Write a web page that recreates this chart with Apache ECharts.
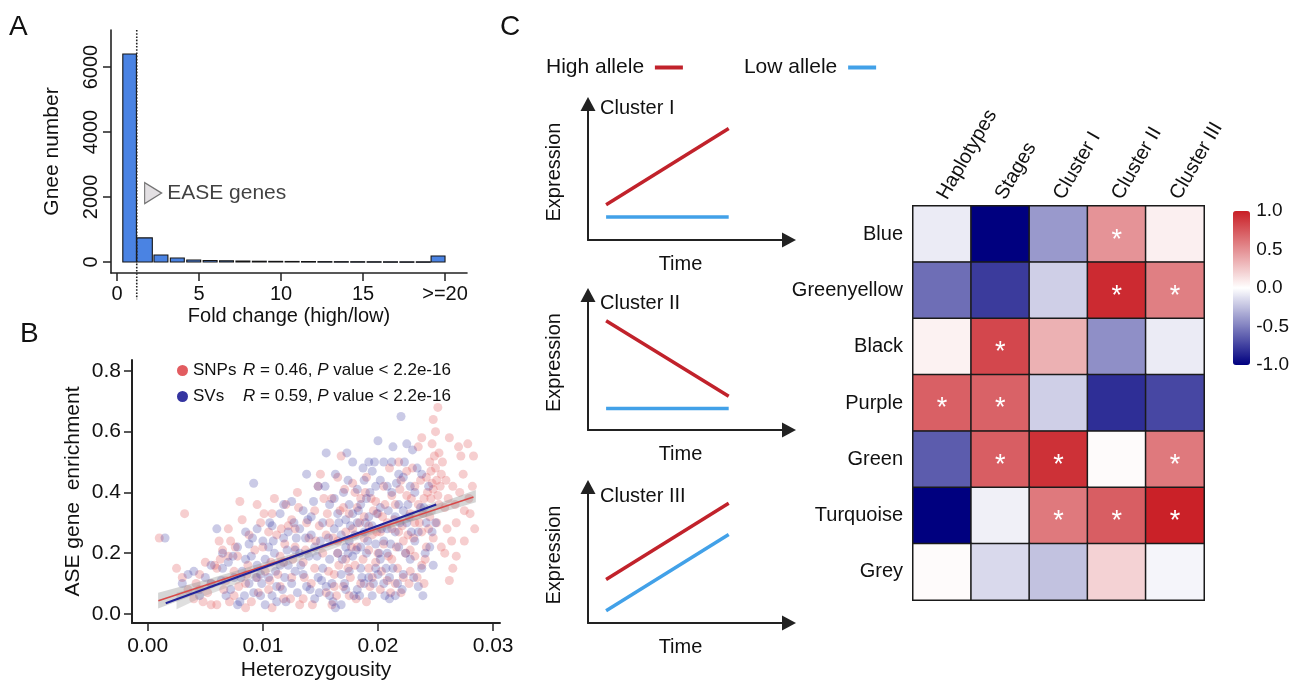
<!DOCTYPE html>
<html><head><meta charset="utf-8">
<script src="https://cdn.jsdelivr.net/npm/echarts@6/dist/echarts.min.js"></script>
<style>html,body{margin:0;padding:0;background:#fff}#c{width:1292px;height:682px}</style>
</head><body><div id="c"></div><script>
// ---------- Panel A: fold-change histogram ----------
const foldLo = [0.35,1.2,2.25,3.25,4.25,5.25,6.25,7.25,8.25,9.25,10.25,11.25,12.25,13.25,14.25,15.25,16.25,17.25,18.25,19.15];
const foldHi = [1.18,2.15,3.1,4.1,5.1,6.1,7.1,8.1,9.1,10.1,11.1,12.1,13.1,14.1,15.1,16.1,17.1,18.1,19.1,20.0];
const geneCounts = [6400,740,215,120,60,45,35,28,22,18,15,12,10,9,8,7,6,5,5,185];
const foldTicks = [0,5,10,15,20];
const geneTicks = [0,2000,4000,6000];
const easeCut = 1.2;
const easeLabelAt = [2.2, 2120];

// ---------- Panel B: heterozygosity vs ASE enrichment ----------
const snpPoints = [
[0.001,0.25],[0.0032,0.33],[0.0025,0.15],[0.003,0.12],[0.0035,0.08],[0.004,0.05],[0.0045,0.13],[0.005,0.17],[0.0055,0.03],[0.006,0.15],
[0.0065,0.21],[0.007,0.28],[0.0072,0.24],[0.0068,0.11],[0.0075,0.06],[0.008,0.37],[0.0078,0.19],[0.0082,0.31],[0.0085,0.1],[0.0088,0.26],
[0.009,0.04],[0.0055,0.1],[0.0045,0.08],[0.006,0.03],[0.007,0.19],[0.0062,0.24],[0.0048,0.04],[0.0058,0.16],[0.0075,0.14],[0.0085,0.02],
[0.0095,0.36],[0.0098,0.3],[0.01,0.22],[0.0102,0.14],[0.0105,0.08],[0.0108,0.33],[0.011,0.38],[0.0112,0.26],[0.0115,0.19],[0.0118,0.05],
[0.012,0.36],[0.0122,0.29],[0.0125,0.12],[0.0128,0.22],[0.013,0.4],[0.0132,0.03],[0.0135,0.17],[0.0138,0.3],[0.014,0.25],[0.0142,0.1],
[0.0145,0.34],[0.0148,0.42],[0.015,0.46],[0.0152,0.2],[0.0155,0.07],[0.0095,0.12],[0.0105,0.27],[0.0115,0.09],[0.0125,0.31],[0.0135,0.05],
[0.0145,0.15],[0.0118,0.17],[0.0128,0.28],[0.0108,0.02],[0.0158,0.3],[0.016,0.38],[0.0162,0.13],[0.0165,0.24],[0.0168,0.52],[0.017,0.35],
[0.0172,0.18],[0.0175,0.06],[0.0178,0.28],[0.018,0.4],[0.0182,0.22],[0.0185,0.1],[0.0188,0.32],[0.019,0.45],[0.0192,0.15],[0.0195,0.26],
[0.0198,0.37],[0.02,0.2],[0.0202,0.08],[0.0205,0.42],[0.0208,0.3],[0.021,0.48],[0.016,0.03],[0.0165,0.45],[0.017,0.09],[0.0175,0.33],
[0.018,0.16],[0.0185,0.38],[0.019,0.04],[0.0195,0.12],[0.02,0.33],[0.0205,0.23],[0.0165,0.2],[0.0178,0.43],[0.0188,0.25],[0.0198,0.17],
[0.0208,0.11],[0.0172,0.27],[0.0182,0.35],[0.0192,0.29],[0.0212,0.18],[0.0215,0.36],[0.0218,0.27],[0.022,0.44],[0.0222,0.12],[0.0225,0.39],
[0.0228,0.21],[0.023,0.48],[0.0232,0.3],[0.0235,0.55],[0.0238,0.16],[0.024,0.38],[0.0242,0.45],[0.0245,0.5],[0.0246,0.47],[0.0247,0.43],
[0.0248,0.41],[0.0249,0.52],[0.025,0.48],[0.0251,0.44],[0.0252,0.39],[0.0253,0.53],[0.0255,0.46],[0.0245,0.32],[0.0248,0.25],[0.025,0.6],
[0.0252,0.68],[0.0255,0.22],[0.0258,0.35],[0.026,0.28],[0.0262,0.11],[0.0265,0.42],[0.0268,0.3],[0.027,0.55],[0.0272,0.52],[0.0275,0.34],
[0.0278,0.56],[0.028,0.33],[0.0282,0.42],[0.0284,0.28],[0.0275,0.24],[0.0268,0.19],[0.0258,0.2],[0.0238,0.27],[0.0228,0.33],[0.0222,0.24],
[0.0232,0.19],[0.0242,0.22],[0.0215,0.1],[0.022,0.07],[0.0235,0.36],[0.0225,0.47],[0.0218,0.5],[0.024,0.1],[0.0265,0.15],[0.0262,0.58],
[0.0248,0.64],[0.0238,0.58],[0.0212,0.28],[0.0228,0.14],[0.0155,0.26],[0.0162,0.09],[0.0192,0.21],[0.0202,0.27],[0.0212,0.39],[0.0232,0.42],
[0.0042,0.1],[0.0052,0.07],[0.0063,0.18],[0.0071,0.04],[0.0079,0.09],[0.0087,0.16],[0.0093,0.21],[0.0101,0.33],[0.0107,0.17],[0.0113,0.13],
[0.0119,0.23],[0.0124,0.05],[0.0131,0.35],[0.0137,0.21],[0.0143,0.03],[0.0149,0.29],[0.0153,0.38],[0.0157,0.14],[0.0161,0.25],[0.0164,0.06],
[0.0167,0.34],[0.0171,0.41],[0.0174,0.15],[0.0177,0.22],[0.0181,0.05],[0.0184,0.3],[0.0187,0.18],[0.0189,0.4],[0.0193,0.09],[0.0196,0.34],
[0.0199,0.27],[0.0203,0.14],[0.0206,0.36],[0.0209,0.19],[0.0211,0.07],[0.0214,0.31],[0.0217,0.15],[0.0219,0.41],[0.0221,0.29],[0.0224,0.2],
[0.0227,0.1],[0.0229,0.38],[0.0231,0.25],[0.0234,0.12],[0.0237,0.44],[0.0239,0.33],[0.0241,0.18],[0.0244,0.28],[0.0246,0.38],[0.0251,0.3],
[0.0254,0.42],[0.0256,0.5],[0.0259,0.44],[0.0261,0.38],[0.0264,0.24],[0.0267,0.36],[0.0271,0.4],[0.0274,0.46],[0.0279,0.38],[0.0283,0.52],
[0.0247,0.56],[0.0243,0.4],[0.0253,0.36],[0.0236,0.3],[0.0226,0.26],[0.0216,0.22],[0.0204,0.32],[0.0194,0.38],[0.0176,0.12],[0.0166,0.16],
[0.0156,0.33],[0.0146,0.24],[0.0136,0.12],[0.0126,0.18],[0.0116,0.28],[0.0106,0.11],[0.0096,0.07],[0.0086,0.13],[0.0076,0.22],[0.0066,0.08]
];
const svPoints = [
[0.0015,0.25],[0.004,0.14],[0.005,0.12],[0.0045,0.06],[0.006,0.28],[0.0065,0.15],[0.007,0.17],[0.0072,0.08],[0.0078,0.22],[0.008,0.04],
[0.0082,0.14],[0.0085,0.27],[0.0088,0.1],[0.009,0.19],[0.0092,0.43],[0.0095,0.16],[0.0098,0.06],[0.01,0.24],[0.0102,0.03],[0.0105,0.12],
[0.0108,0.29],[0.011,0.2],[0.0112,0.09],[0.0115,0.33],[0.0118,0.25],[0.012,0.04],[0.0122,0.16],[0.0125,0.37],[0.0128,0.21],[0.013,0.07],
[0.0132,0.28],[0.0135,0.13],[0.0138,0.46],[0.014,0.19],[0.0142,0.32],[0.0145,0.05],[0.0148,0.42],[0.015,0.24],[0.0152,0.15],[0.0155,0.53],
[0.0158,0.36],[0.016,0.1],[0.0162,0.28],[0.0165,0.2],[0.0168,0.03],[0.017,0.4],[0.0172,0.31],[0.0175,0.14],[0.0178,0.5],[0.018,0.26],
[0.0182,0.08],[0.0185,0.36],[0.0188,0.44],[0.019,0.2],[0.0192,0.5],[0.0195,0.29],[0.0198,0.15],[0.02,0.57],[0.0202,0.35],[0.0205,0.24],
[0.0208,0.42],[0.021,0.12],[0.0212,0.5],[0.0215,0.32],[0.0218,0.22],[0.022,0.65],[0.0222,0.45],[0.0225,0.3],[0.0228,0.18],[0.023,0.54],
[0.0232,0.4],[0.0235,0.27],[0.0238,0.15],[0.024,0.35],[0.0245,0.22],[0.025,0.3],[0.0238,0.46],[0.0215,0.06],[0.0205,0.1],[0.0195,0.06],
[0.0185,0.15],[0.0175,0.24],[0.0165,0.33],[0.0155,0.09],[0.0145,0.22],[0.0135,0.34],[0.0125,0.1],[0.0115,0.16],[0.0105,0.22],[0.0095,0.28],
[0.0085,0.18],[0.0075,0.12],[0.0065,0.2],[0.0055,0.1],[0.0035,0.13],[0.019,0.38],[0.0198,0.42],[0.0192,0.32],[0.0182,0.3],[0.0178,0.19],
[0.0172,0.08],[0.0202,0.18],[0.0212,0.4],[0.0218,0.36],[0.0208,0.28],[0.0222,0.13],[0.0228,0.42],[0.0188,0.1],[0.0168,0.26],[0.0158,0.18],
[0.0148,0.12],[0.0162,0.38],[0.0152,0.3],[0.0142,0.26],[0.0132,0.2],[0.0122,0.27],[0.0112,0.04],[0.0102,0.18],[0.0092,0.07],[0.0205,0.5],
[0.0195,0.47],[0.021,0.05],[0.0185,0.22],[0.0175,0.36],[0.02,0.13],[0.0215,0.27],[0.0232,0.24],[0.0242,0.3],[0.0248,0.16],[0.0235,0.09],
[0.0225,0.56],[0.0218,0.46],[0.0198,0.23],[0.0188,0.27],[0.0178,0.33],[0.0168,0.13],[0.0158,0.06],[0.0138,0.09],[0.0128,0.14],[0.0118,0.36],
[0.0108,0.06],[0.0098,0.13],[0.0088,0.23],[0.0078,0.03],[0.0182,0.41],[0.0172,0.22],[0.0192,0.12],[0.0202,0.44],[0.0208,0.2],[0.0222,0.34],
[0.003,0.1],[0.0055,0.16],[0.0068,0.06],[0.0081,0.12],[0.0091,0.25],[0.0099,0.1],[0.0106,0.3],[0.0111,0.14],[0.0117,0.08],[0.0121,0.21],
[0.0127,0.3],[0.0133,0.16],[0.0137,0.25],[0.0141,0.08],[0.0144,0.37],[0.0147,0.19],[0.0151,0.11],[0.0154,0.42],[0.0157,0.25],[0.0161,0.04],
[0.0163,0.46],[0.0166,0.3],[0.0169,0.18],[0.0171,0.1],[0.0174,0.44],[0.0176,0.29],[0.0179,0.06],[0.0181,0.21],[0.0183,0.34],[0.0186,0.12],
[0.0189,0.3],[0.0191,0.24],[0.0193,0.4],[0.0196,0.1],[0.0199,0.33],[0.0201,0.2],[0.0203,0.28],[0.0206,0.06],[0.0209,0.34],[0.0211,0.23],
[0.0213,0.15],[0.0216,0.43],[0.0219,0.3],[0.0221,0.08],[0.0224,0.2],[0.0226,0.36],[0.0229,0.27],[0.0231,0.12],[0.0234,0.48],[0.0237,0.35],
[0.0241,0.2],[0.0244,0.42],[0.0247,0.27],[0.0239,0.06],[0.0223,0.5],[0.0213,0.55],[0.0197,0.5],[0.0187,0.48],[0.0173,0.53],[0.0163,0.02],
[0.0149,0.07],[0.0139,0.31],[0.0129,0.25],[0.0119,0.12],[0.0109,0.24],[0.0094,0.12],[0.0084,0.06],[0.0074,0.19],[0.0064,0.11],[0.0207,0.15],
[0.0217,0.1],[0.0227,0.32],[0.0184,0.06],[0.0174,0.2]
];
const snpFit = [[0.00092,0.0436],[0.0283,0.385]];
const svFit = [[0.00156,0.035],[0.02506,0.36]];
const snpBandX  = [0.0009,0.005,0.01,0.015,0.02,0.025,0.0285];
const snpBandLo = [0.018,0.076,0.146,0.211,0.273,0.328,0.368];
const snpBandHi = [0.07,0.112,0.168,0.227,0.291,0.36,0.408];
const svBandX  = [0.0025,0.005,0.01,0.015,0.02,0.025];
const svBandLo = [0.015,0.06,0.13,0.2,0.268,0.33];
const svBandHi = [0.07,0.095,0.158,0.225,0.292,0.37];
const statR = [0.46, 0.59];
const statP = ['2.2e-16', '2.2e-16'];
const hetTicks = [0,0.01,0.02,0.03];
const aseTicks = [0,0.2,0.4,0.6,0.8];

// ---------- Panel C: schematic clusters ----------
const clusterNames = ['Cluster I','Cluster II','Cluster III'];
const schemeTime = [0.09, 0.70];
const highAllele = [[0.26,0.82],[0.81,0.25],[0.32,0.88]];
const lowAllele  = [[0.17,0.17],[0.16,0.16],[0.09,0.65]];

// ---------- Panel C: module-trait heatmap ----------
const traitCols = ['Haplotypes','Stages','Cluster I','Cluster II','Cluster III'];
const moduleRows = ['Blue','Greenyellow','Black','Purple','Green','Turquoise','Grey'];
const corr = [
  [-0.08,-1.0,-0.4,0.48,0.07],
  [-0.57,-0.77,-0.19,0.95,0.57],
  [0.06,0.82,0.35,-0.44,-0.08],
  [0.71,0.7,-0.19,-0.82,-0.72],
  [-0.64,0.72,0.92,0.02,0.6],
  [-1.0,-0.06,0.6,0.72,0.99],
  [0.02,-0.15,-0.24,0.2,-0.04]
];
const signif = [
  [0,0,0,1,0],
  [0,0,0,1,1],
  [0,1,0,0,0],
  [1,1,0,0,0],
  [0,1,1,0,1],
  [0,0,1,1,1],
  [0,0,0,0,0]
];
const scaleTicks = [-1,-0.5,0,0.5,1];

// ================= build =================
const FONT = '"Liberation Sans", Arial, sans-serif';
const INK = '#111';
const chart = echarts.init(document.getElementById('c'), null, {renderer:'canvas'});

const heatData = [];
corr.forEach((row, r) => row.forEach((v, c) => heatData.push([c, r, v])));
const histData = geneCounts.map((n, i) => [foldLo[i], foldHi[i], n]);

const schemeGrids = [
  {left:588, top:104, width:201, height:136},
  {left:588, top:295, width:201, height:135},
  {left:588, top:487, width:201, height:136}
];
const arrowAxis = (extra) => Object.assign({
  type:'value', min:0, max:1,
  axisLine:{show:true, onZero:false, lineStyle:{color:'#222', width:2}, symbol:['none','triangle'], symbolSize:[15,14]},
  axisTick:{show:false}, axisLabel:{show:false}, splitLine:{show:false},
  nameLocation:'middle', nameTextStyle:{fontSize:20, color:INK}
}, extra);

const xAxes = [
  {gridIndex:0, type:'value', min:-0.37, max:21.34,
   axisLine:{onZero:false, lineStyle:{color:'#222', width:1.6}},
   axisTick:{customValues:foldTicks, length:8, lineStyle:{color:'#222', width:1.5}},
   axisLabel:{customValues:foldTicks, formatter:v => v >= 20 ? '>=20' : String(v), fontSize:20, color:INK, margin:11},
   splitLine:{show:false},
   name:'Fold change (high/low)', nameLocation:'middle', nameGap:33, nameTextStyle:{fontSize:20, color:INK}},
  {gridIndex:1, type:'value', min:-0.00137, max:0.0306,
   axisLine:{onZero:false, lineStyle:{color:'#222', width:2}},
   axisTick:{customValues:hetTicks, length:8, lineStyle:{color:'#222', width:1.5}},
   axisLabel:{customValues:hetTicks, formatter:v => v.toFixed(2), fontSize:21, color:INK, margin:13},
   splitLine:{show:false},
   name:'Heterozygousity', nameLocation:'middle', nameGap:37, nameTextStyle:{fontSize:21, color:INK}}
];
const yAxes = [
  {gridIndex:0, type:'value', min:-340, max:7140,
   axisLine:{onZero:false, lineStyle:{color:'#222', width:1.6}},
   axisTick:{customValues:geneTicks, length:8, lineStyle:{color:'#222', width:1.5}},
   axisLabel:{customValues:geneTicks, formatter:v => String(v), rotate:90, fontSize:20, color:INK, margin:10},
   splitLine:{show:false},
   name:'Gnee number', nameLocation:'middle', nameGap:48, nameTextStyle:{fontSize:21, color:INK}},
  {gridIndex:1, type:'value', min:-0.03, max:0.836,
   axisLine:{onZero:false, lineStyle:{color:'#222', width:2}},
   axisTick:{customValues:aseTicks, length:8, lineStyle:{color:'#222', width:1.5}},
   axisLabel:{customValues:aseTicks, formatter:v => v.toFixed(1), fontSize:21, color:INK, margin:11},
   splitLine:{show:false},
   name:'ASE gene  enrichment', nameLocation:'middle', nameGap:48, nameTextStyle:{fontSize:21, color:INK}}
];
clusterNames.forEach((n, i) => {
  xAxes.push(arrowAxis({gridIndex:2+i, name:'Time', nameGap:14, nameTextStyle:{fontSize:20, color:INK, padding:[0,16,0,0]}}));
  yAxes.push(arrowAxis({gridIndex:2+i, name:'Expression', nameGap:24}));
});
// heatmap axes (grid 5) -> axis index 5
xAxes.push({gridIndex:5, type:'category', data:traitCols, position:'top',
  axisLine:{show:false}, axisTick:{show:false}, splitLine:{show:false},
  axisLabel:{rotate:-60, fontSize:20, color:INK, margin:8}});
yAxes.push({gridIndex:5, type:'category', data:moduleRows, inverse:true,
  axisLine:{show:false}, axisTick:{show:false}, splitLine:{show:false},
  axisLabel:{fontSize:20, color:INK, margin:10}});
// colour-scale labels (grid 6) -> axis index 6
xAxes.push({gridIndex:6, type:'value', min:0, max:1, show:false});
yAxes.push({gridIndex:6, type:'value', min:-1, max:1, position:'right',
  axisLine:{show:false}, axisTick:{show:false}, splitLine:{show:false},
  axisLabel:{customValues:scaleTicks, formatter:v => v.toFixed(1), fontSize:19, color:INK, margin:7}});

const series = [
  {type:'custom', xAxisIndex:0, yAxisIndex:0, data:histData, encode:{x:[0,1], y:2}, z:3,
   renderItem:(params, api) => {
     const p0 = api.coord([api.value(0), api.value(2)]);
     const p1 = api.coord([api.value(1), 0]);
     return {type:'rect', shape:{x:p0[0], y:p0[1], width:p1[0]-p0[0], height:Math.max(p1[1]-p0[1], 0.5)},
             style:{fill:'#4a83e3', stroke:'#151515', lineWidth:1.1}};
   }},
  {type:'custom', xAxisIndex:0, yAxisIndex:0, data:[[easeCut]], encode:{x:0}, clip:false, z:4,
   renderItem:(params, api) => {
     const a = api.coord([api.value(0), 7140]);
     const b = api.coord([api.value(0), -1150]);
     return {type:'line', shape:{x1:a[0], y1:a[1], x2:b[0], y2:b[1]},
             style:{stroke:'#222', lineWidth:1.6, lineDash:[1.6,1.6]}};
   }},
  {type:'scatter', xAxisIndex:0, yAxisIndex:0, data:[easeLabelAt], z:5,
   symbol:'path://M0,0 L10,6 L0,12 Z', symbolSize:[17,21],
   itemStyle:{color:'#dcd8dc', borderColor:'#555', borderWidth:1.2},
   label:{show:true, position:'right', distance:5, formatter:'EASE genes', fontSize:21, color:INK}},
  {name:'SNPs', type:'scatter', xAxisIndex:1, yAxisIndex:1, data:snpPoints, symbolSize:9, z:2,
   itemStyle:{color:'#e25c60', opacity:0.3}},
  {name:'SVs', type:'scatter', xAxisIndex:1, yAxisIndex:1, data:svPoints, symbolSize:9, z:2,
   itemStyle:{color:'#3434a0', opacity:0.26}},
  {type:'custom', xAxisIndex:1, yAxisIndex:1, data:[[0.01, 0.2]], encode:{x:0, y:1}, z:3,
   renderItem:(params, api) => {
     const poly = (xs, lo, hi) => xs.map((x, i) => api.coord([x, hi[i]]))
        .concat(xs.map((x, i) => api.coord([x, lo[i]])).reverse());
     return {type:'group', children:[
       {type:'polygon', shape:{points:poly(snpBandX, snpBandLo, snpBandHi)}, style:{fill:'rgba(150,150,150,0.4)'}},
       {type:'polygon', shape:{points:poly(svBandX, svBandLo, svBandHi)}, style:{fill:'rgba(150,150,150,0.3)'}}
     ]};
   }},
  {type:'line', xAxisIndex:1, yAxisIndex:1, data:snpFit, showSymbol:false, z:4,
   lineStyle:{color:'#d84a4a', width:1.6}},
  {type:'line', xAxisIndex:1, yAxisIndex:1, data:svFit, showSymbol:false, z:5,
   lineStyle:{color:'#23239a', width:2}}
];
clusterNames.forEach((n, i) => {
  series.push({name:'High allele', type:'line', xAxisIndex:2+i, yAxisIndex:2+i, showSymbol:false,
    data:[[schemeTime[0], highAllele[i][0]], [schemeTime[1], highAllele[i][1]]],
    lineStyle:{color:'#c1222b', width:3.5}, itemStyle:{color:'#c1222b'}});
  series.push({name:'Low allele', type:'line', xAxisIndex:2+i, yAxisIndex:2+i, showSymbol:false,
    data:[[schemeTime[0], lowAllele[i][0]], [schemeTime[1], lowAllele[i][1]]],
    lineStyle:{color:'#42a1e8', width:3.5}, itemStyle:{color:'#42a1e8'}});
});
const heatIndex = series.length;
series.push({type:'heatmap', xAxisIndex:5, yAxisIndex:5, data:heatData,
  itemStyle:{borderColor:'#1a1a1a', borderWidth:1.5},
  emphasis:{disabled:true},
  label:{show:true, color:'#fff', fontSize:27, offset:[0,6],
    formatter:p => signif[p.value[1]][p.value[0]] ? '*' : ''}});

const titles = [
  {text:'A', left:9, top:13},
  {text:'B', left:20, top:320},
  {text:'C', left:500, top:13}
].map(t => Object.assign(t, {padding:0, textStyle:{fontSize:28, fontWeight:'normal', color:INK, fontFamily:FONT}}));
const clusterTops = [98, 293, 486];
clusterNames.forEach((n, i) => titles.push({text:n, left:600, top:clusterTops[i], padding:0,
  textStyle:{fontSize:20, fontWeight:'normal', color:INK, fontFamily:FONT}}));

const option = {
  animation:false,
  backgroundColor:'#fff',
  textStyle:{fontFamily:FONT},
  title:titles,
  grid:[
    {left:111, top:30, width:356, height:243},
    {left:132, top:360, width:368, height:264},
    schemeGrids[0], schemeGrids[1], schemeGrids[2],
    {left:913, top:206, width:291, height:394},
    {left:1233, top:211, width:17, height:154}
  ],
  xAxis:xAxes,
  yAxis:yAxes,
  legend:[
    {data:['High allele','Low allele'], left:546, top:57, padding:0, align:'right', icon:'rect',
     itemWidth:28, itemHeight:4, itemGap:61, selectedMode:false,
     formatter:n => n + ' ', textStyle:{fontSize:21, color:INK}},
    {data:['SNPs','SVs'], left:177, top:362, padding:0, orient:'vertical', icon:'circle',
     itemWidth:11, itemHeight:11, itemGap:9, selectedMode:false, itemStyle:{opacity:1},
     formatter:n => {
       const i = n === 'SNPs' ? 0 : 1;
       return '{n|' + n + '}{i|R} = ' + statR[i].toFixed(2) + ', {i|P} value < ' + statP[i];
     },
     textStyle:{fontSize:17, color:INK, rich:{n:{width:50, fontSize:17, color:INK}, i:{fontStyle:'italic', fontSize:17, color:INK}}}}
  ],
  visualMap:{type:'continuous', seriesIndex:heatIndex, dimension:2, min:-1, max:1,
    left:1233, top:211, itemWidth:17, itemHeight:154, padding:0, calculable:false, hoverLink:false,
    inRange:{color:['#00007f','#ffffff','#c91f26']}},
  series:series
};
chart.setOption(option);
</script></body></html>
